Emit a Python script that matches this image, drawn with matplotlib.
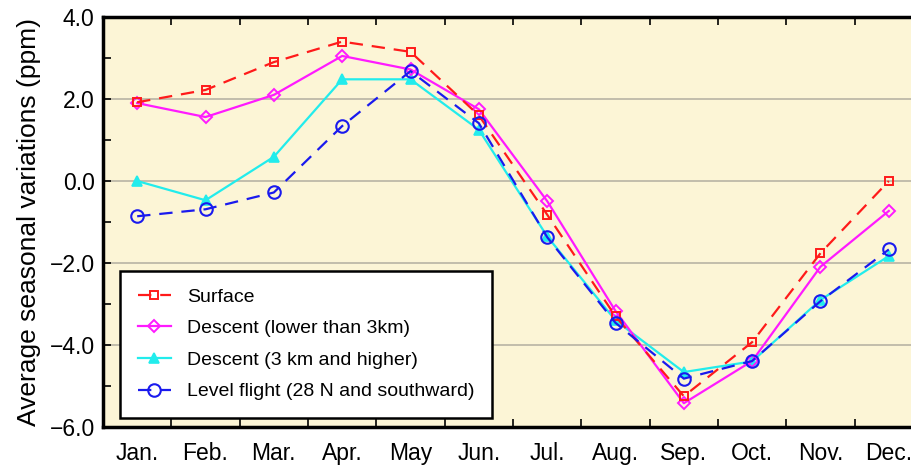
import numpy as np
import matplotlib.pyplot as plt
from matplotlib.ticker import MultipleLocator, FixedLocator

plt.rcParams['font.family'] = ['Liberation Sans', 'DejaVu Sans']

months = ['Jan.', 'Feb.', 'Mar.', 'Apr.', 'May', 'Jun.',
          'Jul.', 'Aug.', 'Sep.', 'Oct.', 'Nov.', 'Dec.']

surface = [1.92, 2.22, 2.9, 3.4, 3.15, 1.6, -0.82, -3.3, -5.25, -3.93, -1.76, 0.0]
descent_low = [1.9, 1.56, 2.1, 3.05, 2.72, 1.75, -0.49, -3.17, -5.42, -4.39, -2.09, -0.73]
descent_high = [0.0, -0.47, 0.59, 2.48, 2.48, 1.25, -1.35, -3.4, -4.66, -4.4, -2.9, -1.83]
level_flight = [-0.86, -0.69, -0.28, 1.34, 2.68, 1.41, -1.37, -3.46, -4.82, -4.39, -2.93, -1.67]

x = np.arange(len(months))

fig = plt.figure(figsize=(9.12, 4.70), dpi=100)
# axes run a little past the right edge of the figure
ax = fig.add_axes([103 / 912, 43 / 470, 820 / 912, 410 / 470])
ax.set_facecolor('#fcf5d6')

ax.plot(x, surface, color='#ff1a1a', ls=(0, (6, 4)), lw=1.6, marker='s', ms=6,
        mfc='none', mew=1.4, label='Surface', zorder=4)
ax.plot(x, descent_low, color='#ff1aff', ls='-', lw=1.6, marker='D', ms=6,
        mfc='none', mew=1.4, label='Descent (lower than 3km)', zorder=3)
ax.plot(x, descent_high, color='#22ecec', ls='-', lw=1.6, marker='^', ms=7,
        mew=1.2, label='Descent (3 km and higher)', zorder=2)
ax.plot(x, level_flight, color='#1a1aee', ls=(0, (6, 4)), lw=1.6, marker='o', ms=9,
        mfc='none', mew=1.5, label='Level flight (28 N and southward)', zorder=5)

ax.set_xlim(-0.5, 11.5)
ax.set_ylim(-6, 4)
ax.set_xticks(x)
ax.set_xticklabels(months)
ax.xaxis.set_minor_locator(FixedLocator(np.arange(0.5, 11, 1)))
ax.yaxis.set_major_locator(MultipleLocator(2))
ax.yaxis.set_minor_locator(MultipleLocator(1))
ax.yaxis.set_major_formatter(plt.FuncFormatter(lambda v, p: f'{v:.1f}'.replace('-', '\u2212')))

ax.grid(axis='y', which='major', color='#b8b4a4', lw=1.2, zorder=0)
ax.tick_params(axis='x', which='major', length=0, pad=11, labelsize=16.5)
ax.tick_params(axis='x', which='minor', direction='in', length=6, width=1.2,
               top=True, bottom=True)
ax.tick_params(axis='y', which='both', direction='in', length=6, width=1.2,
               labelsize=16.5, pad=6)
ax.set_ylabel('Average seasonal variations (ppm)', fontsize=19, labelpad=6)

for s in ax.spines.values():
    s.set_linewidth(2.5)

leg = ax.legend(loc='lower left', bbox_to_anchor=(17 / 820, 9 / 410), fontsize=14,
                frameon=True, fancybox=False, edgecolor='black', framealpha=1,
                handlelength=1.7, borderpad=0.9, labelspacing=0.72, handletextpad=0.85,
                borderaxespad=0)
leg.get_frame().set_linewidth(1.8)

fig.savefig('out.png', dpi=100)
